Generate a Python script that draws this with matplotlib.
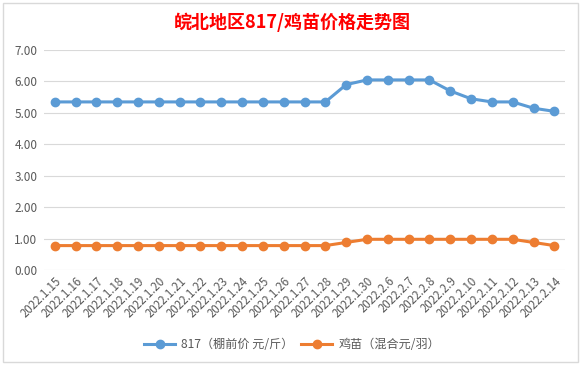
import matplotlib.pyplot as plt
from matplotlib.patches import Rectangle

plt.rcParams['font.family'] = ['Noto Sans CJK SC', 'DejaVu Sans']

# data
dates = ['2022.1.15', '2022.1.16', '2022.1.17', '2022.1.18', '2022.1.19', '2022.1.20',
         '2022.1.21', '2022.1.22', '2022.1.23', '2022.1.24', '2022.1.25', '2022.1.26',
         '2022.1.27', '2022.1.28', '2022.1.29', '2022.1.30', '2022.2.6', '2022.2.7',
         '2022.2.8', '2022.2.9', '2022.2.10', '2022.2.11', '2022.2.12', '2022.2.13',
         '2022.2.14']
price_817 = [5.35, 5.35, 5.35, 5.35, 5.35, 5.35, 5.35, 5.35, 5.35, 5.35, 5.35, 5.35,
             5.35, 5.35, 5.90, 6.05, 6.05, 6.05, 6.05, 5.70, 5.45, 5.35, 5.35, 5.15, 5.05]
price_chick = [0.78, 0.78, 0.78, 0.78, 0.78, 0.78, 0.78, 0.78, 0.78, 0.78, 0.78, 0.78,
               0.78, 0.78, 0.88, 0.98, 0.98, 0.98, 0.98, 0.98, 0.98, 0.98, 0.98, 0.88, 0.78]
yticks = [0, 1, 2, 3, 4, 5, 6, 7]

fig = plt.figure(figsize=(5.84, 3.68), dpi=100)
fig.patches.append(Rectangle((3 / 584, 1 - 362 / 368), 575 / 584, 359 / 368,
                             transform=fig.transFigure, fill=False,
                             edgecolor='#d9d9d9', linewidth=1))

ax = fig.add_axes([0.076, 0.266, 0.891, 0.598])
x = range(len(dates))
ax.plot(x, price_817, color='#5B9BD5', lw=2.2, marker='o', ms=6,
        label='817（棚前价 元/斤）', zorder=3)
ax.plot(x, price_chick, color='#ED7D31', lw=2.2, marker='o', ms=6,
        label='鸡苗（混合元/羽）', zorder=3)

ax.set_xlim(-0.5, len(dates) - 0.5)
ax.set_ylim(0, 7)
ax.set_yticks(yticks)
ax.set_yticklabels([f'{v:.2f}' for v in yticks], fontsize=8.5, color='#595959')
ax.set_xticks(list(x))
ax.set_xticklabels(dates, rotation=45, ha='right', va='top', rotation_mode='anchor',
                   fontsize=8.3, color='#595959')
ax.tick_params(axis='y', length=0, pad=5)
ax.tick_params(axis='x', length=0, pad=3)
ax.grid(axis='y', color='#d9d9d9', linewidth=0.8)
for s in ax.spines.values():
    s.set_visible(False)

fig.text(0.5, 1 - 22 / 368, '皖北地区817/鸡苗价格走势图', ha='center', va='center',
         fontsize=13, fontweight='bold', color='#ff0000')

fig.legend(loc='center', bbox_to_anchor=(0.5, 1 - 345 / 368), ncol=2, frameon=False,
           fontsize=8.7, labelcolor='#595959', handlelength=2.6, handletextpad=0.5,
           columnspacing=0.6)

fig.savefig('out.png', dpi=100)
